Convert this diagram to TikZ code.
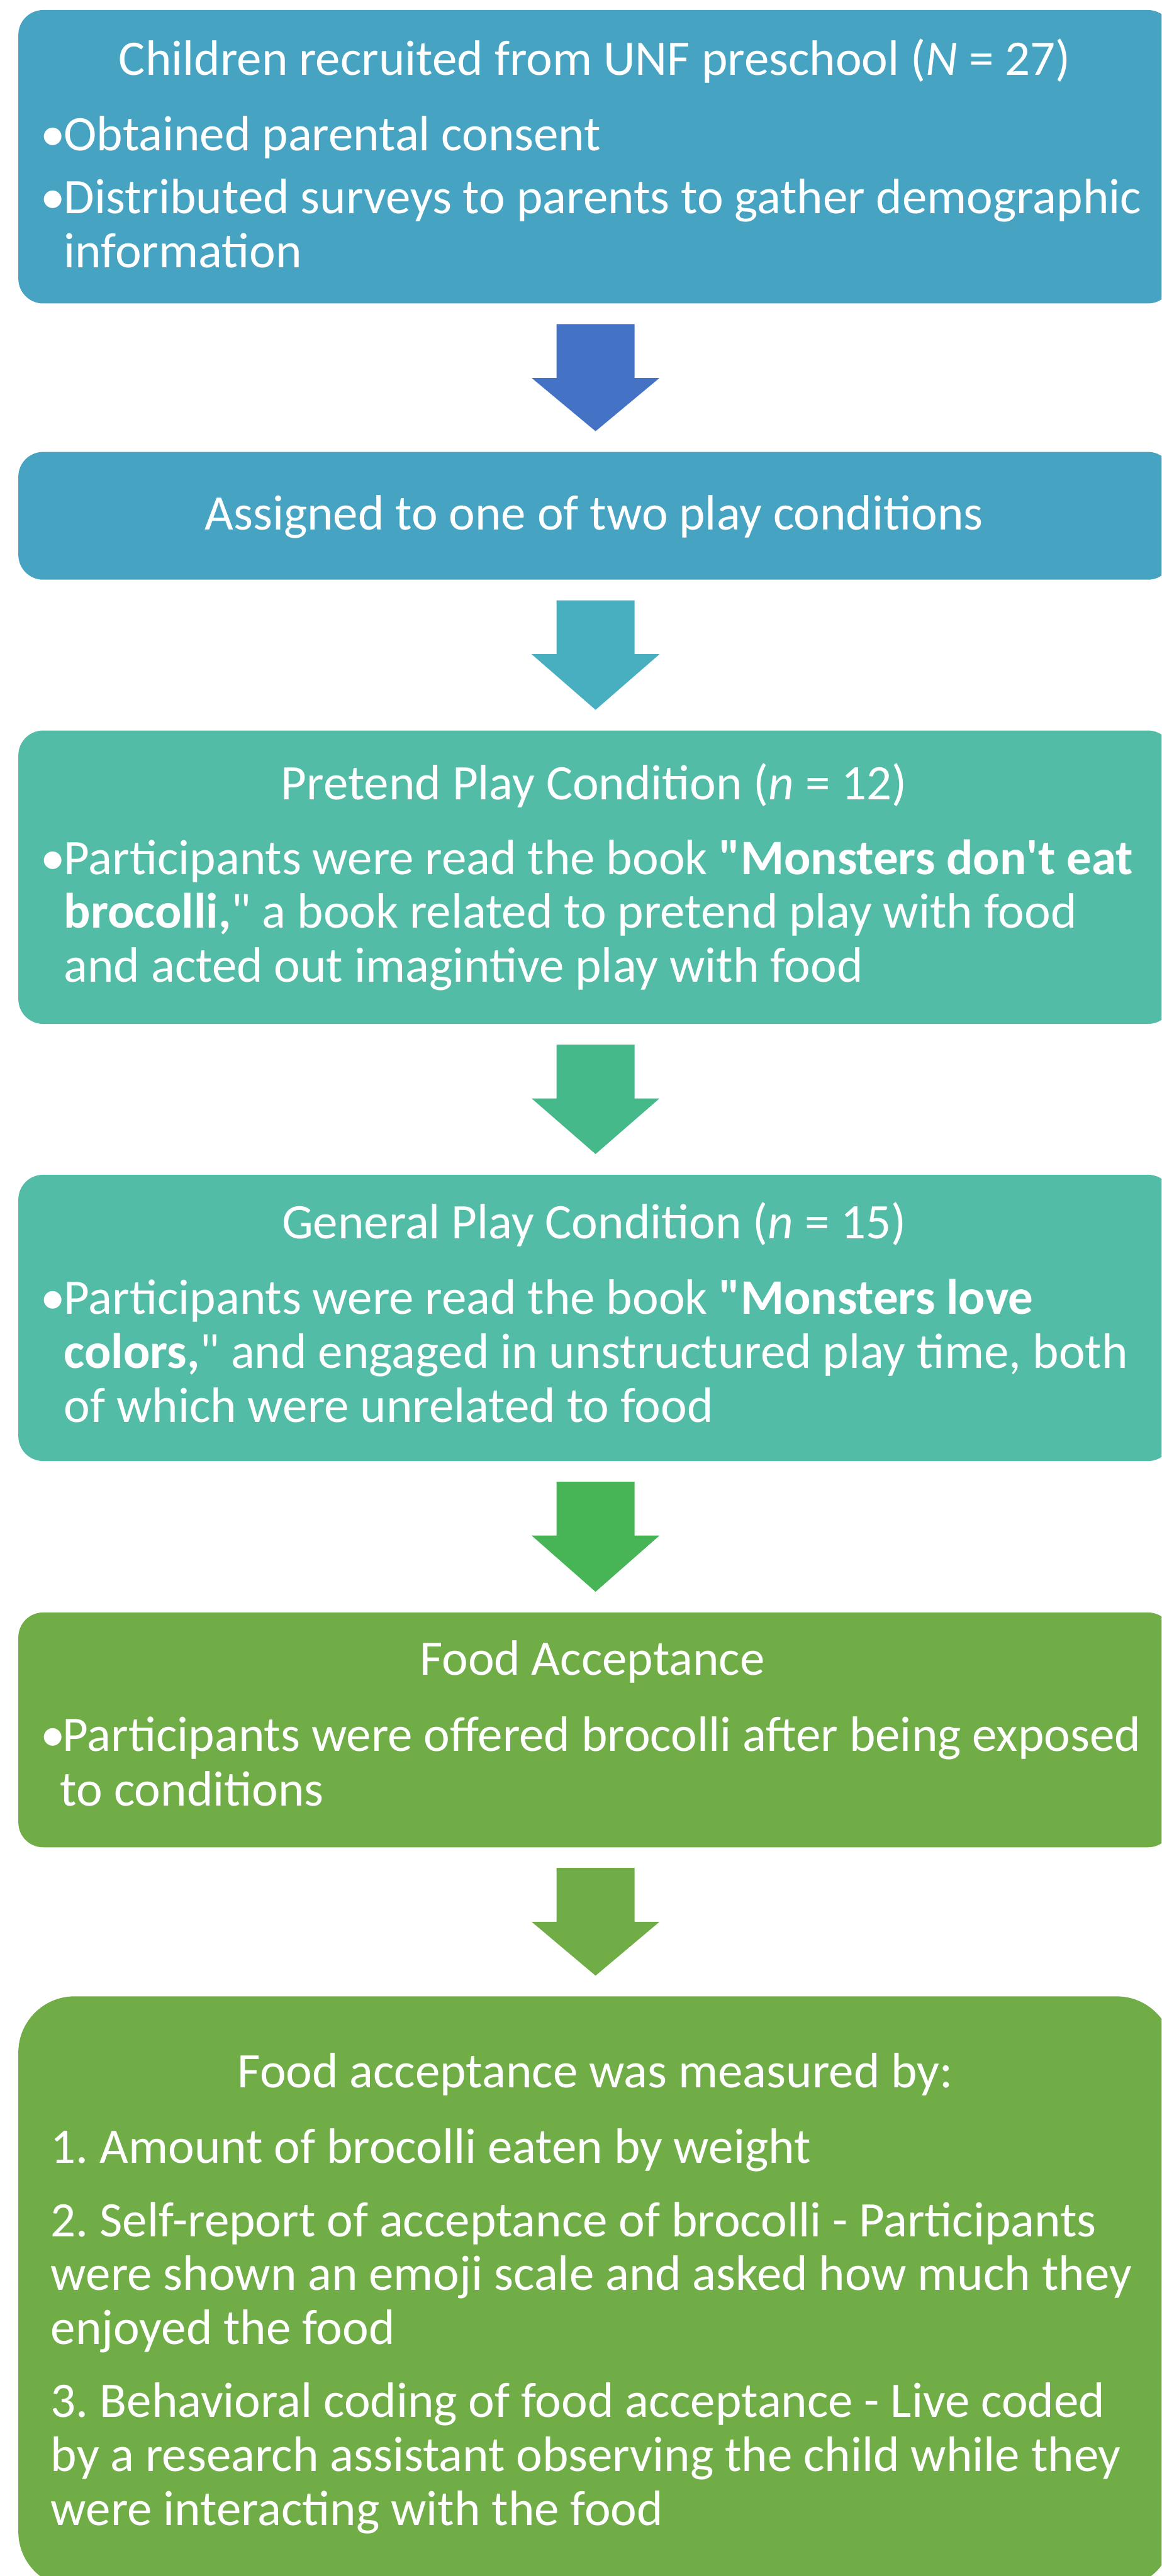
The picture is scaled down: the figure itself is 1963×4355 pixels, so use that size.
\documentclass[tikz,border=0pt]{standalone}
\usepackage{fontspec}
\setmainfont{Carlito}
\usetikzlibrary{calc}
\definecolor{cBlueBox}{HTML}{46A3C2}
\definecolor{cTealBox}{HTML}{52BCA6}
\definecolor{cGreenBox}{HTML}{70AD47}
\definecolor{cArrA}{HTML}{4472C4}
\definecolor{cArrB}{HTML}{48AFC1}
\definecolor{cArrC}{HTML}{46B98A}
\definecolor{cArrD}{HTML}{47B455}
\definecolor{cArrE}{HTML}{70AD47}
\newcommand\flowarrow[3]{%
  \fill[#3] let \p1=(#1.south), \p2=(#2.north) in
  (\x1-66pt,\y1-35pt) -- (\x1+66pt,\y1-35pt) -- (\x1+66pt,\y1-126pt) --
  (\x1+108pt,\y1-126pt) -- (\x1,\y2+35pt) -- (\x1-108pt,\y1-126pt) --
  (\x1-66pt,\y1-126pt) -- cycle;}
\tikzset{
  box/.style={rectangle, rounded corners=42pt, inner sep=0pt, outer sep=0pt, minimum width=1951pt},
  txt/.style={text=white, inner sep=0pt, outer sep=0pt, font=\fontsize{84}{91}\selectfont\frenchspacing},
  ttl/.style={txt, anchor=base},
  ln/.style={txt, anchor=base west},
  bul/.style={txt, anchor=base}
}
\begin{document}
\begin{tikzpicture}[x=1pt,y=-1pt]
\useasboundingbox (0,0) rectangle (1963,4355);
\clip (0,0) rectangle (1963,4355);
% boxes
\node[box, fill=cBlueBox, minimum height=496pt] (b1) at (1006.5,265) {};
\node[box, fill=cBlueBox, minimum height=216pt] (b2) at (1006.5,872) {};
\node[box, fill=cTealBox, minimum height=496pt] (b3) at (1006.5,1483) {};
\node[box, fill=cTealBox, minimum height=484pt] (b4) at (1006.5,2228) {};
\node[box, fill=cGreenBox, minimum height=397pt] (b5) at (1006.5,2924.5) {};
\node[box, fill=cGreenBox, minimum height=1000pt, rounded corners=95pt] (b6) at (1006.5,3875) {};
% arrows
\flowarrow{b1}{b2}{cArrA}
\flowarrow{b2}{b3}{cArrB}
\flowarrow{b3}{b4}{cArrC}
\flowarrow{b4}{b5}{cArrD}
\flowarrow{b5}{b6}{cArrE}
% box 1 text
\node[ttl] (t1) at (1005,127) {Children recruited from UNF preschool (\textit{N} = 27)};
\node[bul] (t1b1) at (89,255) {•};
\node[ln] (t1l1) at (108,255) {Obtained parental consent};
\node[bul] (t1b2) at (89,361) {•};
\node[ln] (t1l2) at (108,361) {Distributed surveys to parents to gather demographic};
\node[ln] (t1l3) at (108,452) {information};
% box 2 text
\node[ttl] (t2) at (1004,896) {Assigned to one of two play conditions};
% box 3 text
\node[ttl] (t3) at (1004,1352) {Pretend Play Condition (\textit{n} = 12)};
\node[bul] (t3b1) at (89,1478) {•};
\node[ln] (t3l1) at (108,1478) {Participants were read the book \textbf{\textquotedbl Monsters don\textquotesingle t eat}};
\node[ln] (t3l2) at (108,1569) {\textbf{brocolli,}\textquotedbl{} a book related to pretend play with food};
\node[ln] (t3l3) at (108,1660) {and acted out imagintive play with food};
% box 4 text
\node[ttl] (t4) at (1004,2094) {General Play Condition (\textit{n} = 15)};
\node[bul] (t4b1) at (89,2222) {•};
\node[ln] (t4l1) at (108,2222) {Participants were read the book \textbf{\textquotedbl Monsters love}};
\node[ln] (t4l2) at (108,2313) {\textbf{colors,}\textquotedbl{} and engaged in unstructured play time, both};
\node[ln] (t4l3) at (108,2404) {of which were unrelated to food};
% box 5 text
\node[ttl] (t5) at (1001,2832) {Food Acceptance};
\node[bul] (t5b1) at (89,2961) {•};
\node[ln] (t5l1) at (106,2961) {Participants were offered brocolli after being exposed};
\node[ln] (t5l2) at (102,3053) {to conditions};
% box 6 text
\node[ttl] (t6) at (1006,3529) {Food acceptance was measured by:};
\node[ln] (t6l1) at (86,3657) {1. Amount of brocolli eaten by weight};
\node[ln] (t6l2) at (86,3781) {2. Self-report of acceptance of brocolli - Participants};
\node[ln] (t6l3) at (86,3872) {were shown an emoji scale and asked how much they};
\node[ln] (t6l4) at (86,3963) {enjoyed the food};
\node[ln] (t6l5) at (86,4087) {3. Behavioral coding of food acceptance - Live coded};
\node[ln] (t6l6) at (86,4178) {by a research assistant observing the child while they};
\node[ln] (t6l7) at (86,4269) {were interacting with the food};
\end{tikzpicture}
\end{document}
